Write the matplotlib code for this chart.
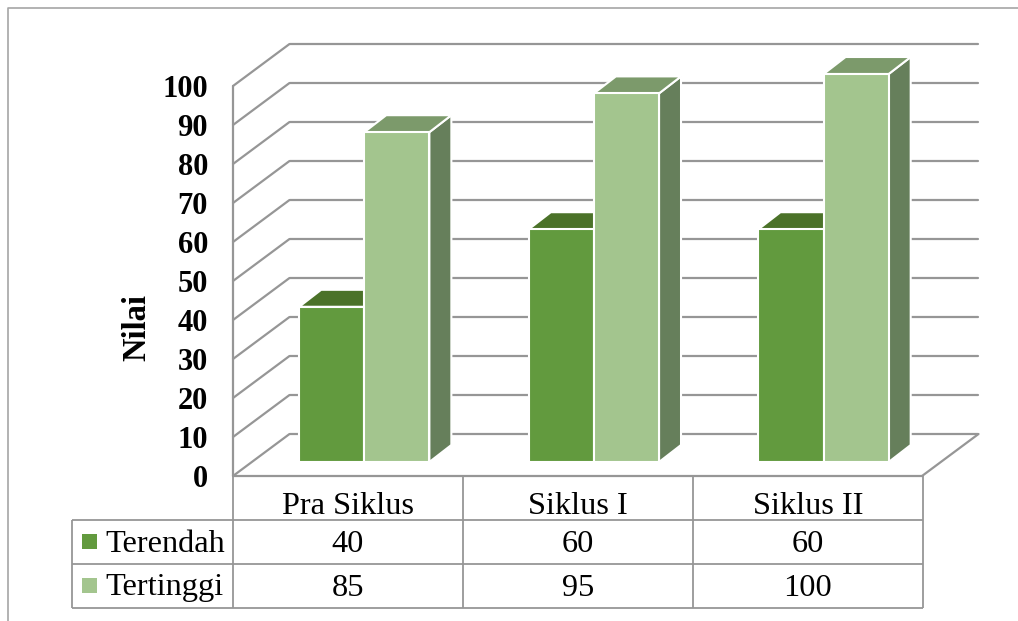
import matplotlib
matplotlib.use("Agg")
import matplotlib.pyplot as plt
from matplotlib.patches import Polygon, Rectangle

categories = ["Pra Siklus", "Siklus I", "Siklus II"]
series_names = ["Terendah", "Tertinggi"]
terendah = [40, 60, 60]
tertinggi = [85, 95, 100]
value_ticks = list(range(0, 101, 10))

W, H = 1018, 621
GRID = "#969696"
FRONT = ["#629A3E", "#A3C58E"]
TOP = ["#4B7229", "#7C9A6B"]
SIDE = ["#3F6B25", "#667F5B"]

plt.rcParams["font.family"] = ["Liberation Serif", "DejaVu Serif"]
fig = plt.figure(figsize=(W / 100, H / 100), dpi=100, facecolor="white")

# Overlay in pixel units for the outer frame and the data table
ov = fig.add_axes([0, 0, 1, 1], zorder=3)
ov.set_xlim(0, W)
ov.set_ylim(H, 0)
ov.axis("off")
ov.patch.set_alpha(0)

# Front plane of the 3D box: category units across, values upward
L, R, Y0, Y100 = 233, 922, 476, 86
ax = fig.add_axes([L / W, 1 - Y0 / H, (R - L) / W, (Y0 - Y100) / H], zorder=2)
ax.set_xlim(0, len(categories))
ax.set_ylim(0, 100)
ax.patch.set_alpha(0)
for s in ax.spines.values():
    s.set_visible(False)
ax.set_xticks([])
ax.set_yticks(value_ticks)
ax.tick_params(axis="y", length=0, pad=18)
for t in ax.get_yticklabels():
    t.set_fontsize(22)
    t.set_fontweight("bold")
    t.set_color("black")
ax.set_ylabel("Nilai", fontsize=23.5, fontweight="bold", labelpad=7.5, y=0.38)

px_x = len(categories) / (R - L)
px_y = 100 / (Y0 - Y100)
wall_dx, wall_dy = 56.5 * px_x, 42 * px_y
bar_dx, bar_dy = 22 * px_x, 17 * px_y
floor = 14 * px_y
bar_scale = 3.88 / 3.9  # bars sit slightly deeper in the box than the front plane
n = len(categories)

# Walls and floor
grid_kw = dict(color=GRID, lw=1.6, clip_on=False, solid_capstyle="round", zorder=1)
for v in value_ticks:
    ax.plot([wall_dx, n + wall_dx], [v + wall_dy, v + wall_dy], **grid_kw)
    ax.plot([0, wall_dx], [v, v + wall_dy], **grid_kw)
ax.plot([0, 0], [0, 100], **grid_kw)
ax.plot([0, n], [0, 0], **grid_kw)
ax.plot([n, n + wall_dx], [0, wall_dy], **grid_kw)

# Bars as front, top and side faces
inset, width = 0.288, 0.2835
edge = dict(edgecolor="white", linewidth=1.5, clip_on=False, joinstyle="miter")
for s, values in enumerate([terendah, tertinggi]):
    for i, v in enumerate(values):
        x0 = i + inset + s * width
        x1 = x0 + width
        height = v * bar_scale
        top = floor + height
        z = 3 + s * 2 + i * 0.01
        ax.add_patch(Polygon([(x1, floor), (x1 + bar_dx, floor + bar_dy),
                              (x1 + bar_dx, top + bar_dy), (x1, top)],
                             facecolor=SIDE[s], zorder=z, **edge))
        ax.add_patch(Polygon([(x0, top), (x1, top), (x1 + bar_dx, top + bar_dy),
                              (x0 + bar_dx, top + bar_dy)],
                             facecolor=TOP[s], zorder=z, **edge))
        ax.add_patch(Rectangle((x0, floor), width, height, facecolor=FRONT[s], zorder=z + 0.5, **edge))

# Outer frame (top and left only)
ov.plot([8, 8, W], [H, 8, 8], color="#a6a6a6", lw=1.2)

# Data table under the plot
cols = [233, 463, 693, 923]
rows = [476, 520, 564, 608]
legend_left = 72
line = dict(color=GRID, lw=1.3, solid_capstyle="butt")
for x in cols:
    ov.plot([x, x], [rows[0], rows[-1]], **line)
ov.plot([legend_left, legend_left], [rows[1], rows[3]], **line)
for j, y in enumerate(rows[1:]):
    ov.plot([legend_left, cols[-1]], [y, y], **line)

table_fs = 23.3
for i, c in enumerate(categories):
    xc = (cols[i] + cols[i + 1]) / 2
    ov.text(xc, (rows[0] + rows[1]) / 2 + 8.5, c, ha="center", va="center", fontsize=table_fs)
    ov.text(xc, (rows[1] + rows[2]) / 2 + 3, str(terendah[i]), ha="center", va="center", fontsize=table_fs)
    ov.text(xc, (rows[2] + rows[3]) / 2 + 3, str(tertinggi[i]), ha="center", va="center", fontsize=table_fs)
for k, name in enumerate(series_names):
    yc = (rows[k + 1] + rows[k + 2]) / 2
    ov.add_patch(Rectangle((82, yc - 8), 15, 15, facecolor=FRONT[k], edgecolor="none"))
    ov.text(105, yc + 2, name, ha="left", va="center", fontsize=table_fs)

fig.savefig("out.png", dpi=100, facecolor="white")
